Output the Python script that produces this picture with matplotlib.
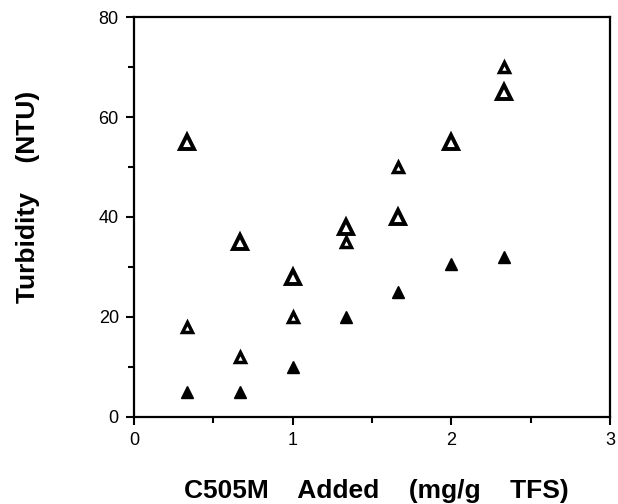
import numpy as np
import matplotlib
matplotlib.use('Agg')
import matplotlib.pyplot as plt
from matplotlib.ticker import MultipleLocator

plt.rcParams['font.family'] = ['Liberation Sans', 'DejaVu Sans']

# dose of C505M (mg/g TFS)
dose = [1/3, 2/3, 1.0, 4/3, 5/3, 2.0, 7/3]

# turbidity (NTU) for the three series
big_open = [55, 35, 28, 38, 40, 55, 65]
small_open = [18, 12, 20, 35, 50, np.nan, 70]
filled = [5, 5, 10, 20, 25, 30.5, 32]

fig = plt.figure(figsize=(6.18, 5.04), dpi=100)
ax = fig.add_axes([0.217, 0.173, 0.770, 0.793])

ax.plot(dose, big_open, linestyle='none', marker='^', markersize=10.5,
        markerfacecolor='white', markeredgecolor='black', markeredgewidth=2.8)
ax.plot(dose, small_open, linestyle='none', marker='^', markersize=7.5,
        markerfacecolor='white', markeredgecolor='black', markeredgewidth=2.5)
ax.plot(dose, filled, linestyle='none', marker='^', markersize=8.5,
        color='black')

ax.set_xlim(0, 3)
ax.set_ylim(0, 80)
ax.xaxis.set_major_locator(MultipleLocator(1))
ax.xaxis.set_minor_locator(MultipleLocator(0.5))
ax.yaxis.set_major_locator(MultipleLocator(20))
ax.yaxis.set_minor_locator(MultipleLocator(10))
ax.tick_params(which='major', direction='out', length=6, width=1.5, labelsize=13, pad=5)
ax.tick_params(which='minor', direction='out', length=4, width=1.5)
for s in ax.spines.values():
    s.set_linewidth(1.6)

ax.set_xlabel('C505M    Added    (mg/g    TFS)', fontsize=19, fontweight='bold', va='center')
ax.set_ylabel('Turbidity    (NTU)', fontsize=19, fontweight='bold', va='center')
ax.xaxis.set_label_coords(0.51, -0.185)
ax.yaxis.set_label_coords(-0.223, 0.55)

fig.savefig('out.png', dpi=100)
